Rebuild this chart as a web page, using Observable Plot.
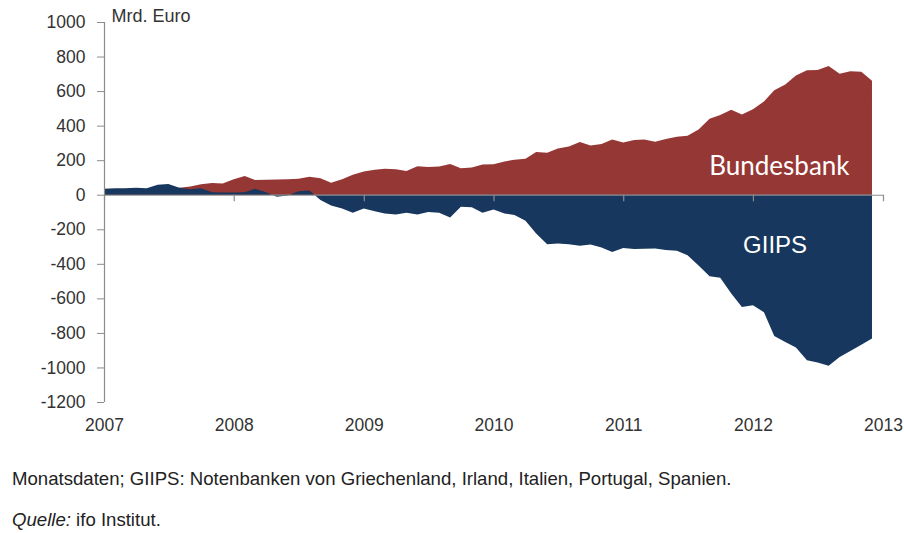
<!DOCTYPE html>
<html>
<head>
<meta charset="utf-8">
<script src="https://cdn.jsdelivr.net/npm/d3@7"></script>
<script src="https://cdn.jsdelivr.net/npm/@observablehq/plot@0.6"></script>
<style>
  html, body { margin: 0; padding: 0; background: #fff; }
  body { width: 904px; height: 533px; overflow: hidden; position: relative; font-family: Arial, "Liberation Sans", sans-serif; }
  #chart { position: absolute; left: 0; top: 0; }
  .note { position: absolute; left: 12px; color: #222; font-size: 18.6px; white-space: nowrap; }
</style>
</head>
<body>
<div id="chart"></div>
<div class="note" id="n1" style="top:468px">Monatsdaten; GIIPS: Notenbanken von Griechenland, Irland, Italien, Portugal, Spanien.</div>
<div class="note" id="n2" style="top:509px"><i>Quelle:</i> ifo Institut.</div>
<script>
// Monthly data, Jan 2007 .. Dec 2012 (Mrd. Euro)
const startYear = 2007;
const bundesbank = [
  10, 12, 15, 18, 20, 25, 30, 40, 48, 60, 68, 65,
  90, 108, 85, 87, 88, 90, 92, 104, 95, 70, 90, 115,
  135, 145, 150, 148, 137, 165, 160, 163, 178, 153, 157, 175,
  177, 193, 203, 208, 248, 243, 267, 279, 305, 285, 294, 320,
  302, 317, 320, 306, 322, 336, 341, 378, 440, 462, 492, 465,
  495, 540, 605, 638, 690, 720, 722, 745, 700, 715, 712, 660
];
const giips = [
  35, 37, 38, 40, 37, 58, 62, 40, 32, 38, 15, 13,
  13, 15, 35, 15, -12, -4, 20, 25, -30, -62, -80, -105,
  -80, -95, -108, -115, -105, -115, -100, -105, -132, -70, -72, -105,
  -85, -108, -118, -150, -225, -286, -282, -286, -295, -288, -306, -331,
  -308, -314, -313, -312, -320, -324, -350, -410, -472, -480, -572, -650,
  -640, -680, -818, -852, -885, -958, -972, -990, -940, -905, -868, -833
];
const yearTicks = [2007, 2008, 2009, 2010, 2011, 2012, 2013];
const yTicks = [-1200, -1000, -800, -600, -400, -200, 0, 200, 400, 600, 800, 1000];
const seriesLabels = [
  {text: "Bundesbank", year: 2012, month: 2.4, value: 166, color: "#ffffff"},
  {text: "GIIPS", year: 2012, month: 2.0, value: -292, color: "#ffffff"}
];

const months = bundesbank.map((_, i) => new Date(Date.UTC(startYear, i, 1)));
const data = months.map((d, i) => ({date: d, bund: bundesbank[i], giips: giips[i]}));
const yearDates = yearTicks.map(y => new Date(Date.UTC(y, 0, 1)));
const labelData = seriesLabels.map(l => ({...l, date: new Date(Date.UTC(l.year, 0, 1) + l.month * 30.44 * 864e5)}));

const RED = "#953735";
const NAVY = "#17375E";
const AXIS = "#8c8c8c";
const TXT = "#333333";

const plot = Plot.plot({
  width: 904,
  height: 440,
  marginLeft: 104,
  marginRight: 21,
  marginTop: 22,
  marginBottom: 38,
  style: {fontFamily: "Arial, 'Liberation Sans', sans-serif", fontSize: "17px", color: TXT, background: "transparent"},
  x: {type: "utc", domain: [yearDates[0], yearDates[yearDates.length - 1]]},
  y: {domain: [-1200, 1000]},
  marks: [
    Plot.areaY(data, {x: "date", y: "bund", fill: RED}),
    Plot.areaY(data, {x: "date", y: "giips", fill: NAVY}),
    Plot.ruleY([0], {stroke: AXIS, strokeWidth: 1.2}),
    Plot.ruleX(yearDates, {y1: 0, y2: -38, stroke: AXIS, strokeWidth: 1.2}),
    Plot.ruleX([yearDates[0]], {y1: -1200, y2: 1000, stroke: AXIS, strokeWidth: 1.2}),
    Plot.axisY({ticks: yTicks, tickFormat: d => String(d), tickSize: 7, tickPadding: 12, stroke: AXIS, label: null, fill: TXT, fontSize: 17.5}),
    Plot.axisX({ticks: yearDates, tickFormat: d => String(d.getUTCFullYear()), tickSize: 0, tickPadding: 16, label: null, fill: TXT, fontSize: 17.5}),
    Plot.text(labelData.filter(d => d.text === "Bundesbank"), {x: "date", y: "value", text: "text", fill: "color", fontSize: 26, fontFamily: "Lato, 'Open Sans', sans-serif"}),
    Plot.text(labelData.filter(d => d.text === "GIIPS"), {x: "date", y: "value", text: "text", fill: "color", fontSize: 24}),
    Plot.text(["Mrd. Euro"], {frameAnchor: "top-left", dx: 7, dy: -13, fill: TXT, fontSize: 18, textAnchor: "start", lineAnchor: "top"})
  ]
});
document.getElementById("chart").appendChild(plot);
</script>
</body>
</html>
